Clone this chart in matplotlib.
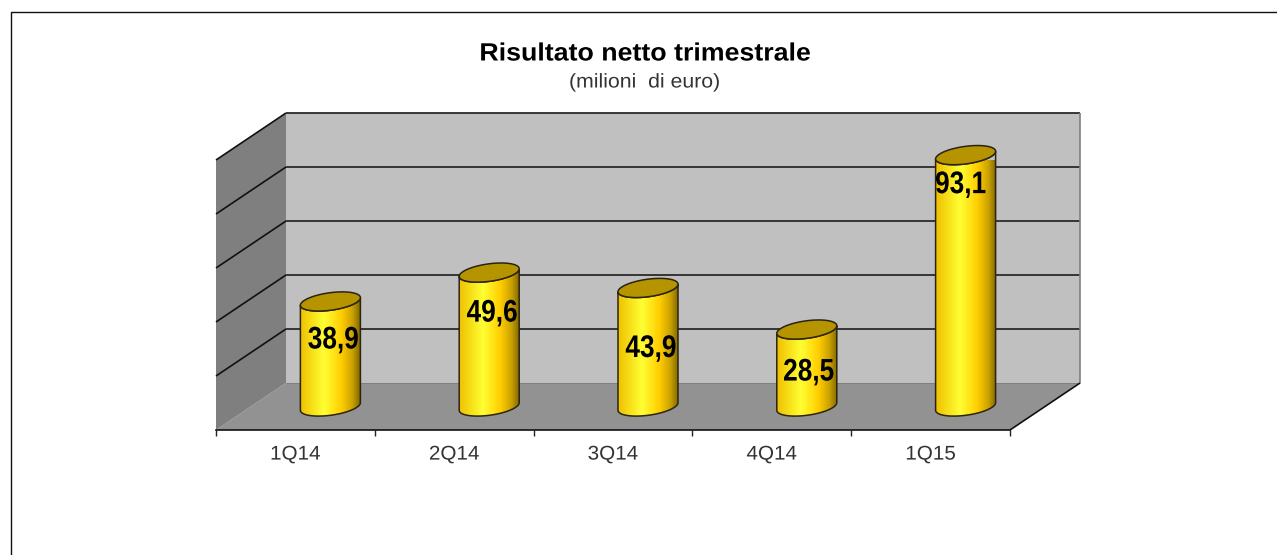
import numpy as np
import matplotlib
matplotlib.use("Agg")
import matplotlib.pyplot as plt
from matplotlib.colors import LinearSegmentedColormap
from matplotlib.lines import Line2D
from matplotlib.patches import Polygon, PathPatch
from matplotlib.path import Path
from matplotlib.patheffects import AbstractPathEffect
from matplotlib.transforms import Affine2D

# ---- data ----
categories = ["1Q14", "2Q14", "3Q14", "4Q14", "1Q15"]
values = [38.9, 49.6, 43.9, 28.5, 93.1]
value_labels = ["38,9", "49,6", "43,9", "28,5", "93,1"]
grid_values = [20, 40, 60, 80, 100]
title = "Risultato netto trimestrale"
subtitle = "(milioni  di euro)"


class StretchX(AbstractPathEffect):
    """Scale text horizontally about its own centre (the original font is narrower/wider)."""

    def __init__(self, sx):
        super().__init__()
        self.sx = sx

    def draw_path(self, renderer, gc, tpath, affine, rgbFace=None):
        box = tpath.get_extents(affine)
        c = 0.5 * (box.x0 + box.x1)
        a = affine + Affine2D().translate(-c, 0).scale(self.sx, 1).translate(c, 0)
        renderer.draw_path(gc, tpath, a, rgbFace)


# ---- layout (pixels) ----
W, H = 1277, 555
plt.rcParams["font.family"] = ["Liberation Sans", "DejaVu Sans"]
fig = plt.figure(figsize=(W / 100, H / 100), dpi=100, facecolor="white")
ax = fig.add_axes([216 / W, (H - 430) / H, 794 / W, 270 / H])
ax.set_facecolor("none")
ax.set_xlim(0, len(categories))
ax.set_ylim(0, 100)
ax.autoscale(False)

PX = 794 / len(categories)   # px per category
PY = 2.7                     # px per value unit
DX, DY = 70 / PX, 47 / PY    # chart depth in data units


def wall(points, depth_pts, **kw):
    pts = [(x + DX * d, y + DY * d) for (x, y), d in zip(points, depth_pts)]
    ax.add_patch(Polygon(pts, closed=True, clip_on=False, **kw))


# back wall, side wall, floor
wall([(0, 0), (5, 0), (5, 100), (0, 100)], [1, 1, 1, 1], fc="#C0C0C0", ec="none", zorder=1)
wall([(0, 0), (0, 0), (0, 100), (0, 100)], [0, 1, 1, 0], fc="#7F7F7F", ec="none", zorder=1)
wall([(0, 0), (5, 0), (5, 0), (0, 0)], [0, 0, 1, 1], fc="#929292", ec="none", zorder=1)

line_kw = dict(clip_on=False, solid_capstyle="butt")
for g in grid_values:
    ax.plot([0, DX], [g, g + DY], color="#111111", lw=1.2, zorder=2, **line_kw)
    ax.plot([DX, 5 + DX], [g + DY, g + DY], color="#2a2a2a", lw=1.3, zorder=2, **line_kw)
# outlines
ax.plot([5 + DX, 5 + DX], [DY, 100 + DY], color="#808080", lw=1.2, zorder=2, **line_kw)
ax.plot([DX, 5 + DX], [DY, DY], color="#808080", lw=0.7, zorder=2, **line_kw)
ax.plot([0, DX], [0, DY], color="#9a9a9a", lw=0.6, zorder=2, **line_kw)
ax.plot([5, 5 + DX], [0, DY], color="#111111", lw=1.2, zorder=2, **line_kw)

# cylinders
cmap = LinearSegmentedColormap.from_list(
    "gold",
    [(0.0, "#EFC000"), (0.40, "#FFFF33"), (0.70, "#FFCC00"),
     (0.88, "#C8A000"), (1.0, "#856B00")],
)
grad = np.linspace(0, 1, 256).reshape(1, -1)
HW = 30 / PX
t = np.linspace(0, 2 * np.pi, 121)


def ell(cx, cy, tt):
    return cx + HW * np.cos(tt), cy + (3.8 * np.cos(tt) - 8.8 * np.sin(tt)) / PY


label_shift_px = [37, 39, 59, 41, 28]
label_dx_px = [3, 3, 3, 2, -5]
edge = "#2b2410"
for i, v in enumerate(values):
    cx = i + 0.5 + DX / 2
    base = DY / 2
    top = base + v
    # left-to-right under the base, then back right-to-left at the top (hidden by the cap)
    bx, by = ell(cx, base, np.linspace(np.pi, 0, 60))
    ux, uy = ell(cx, top, np.linspace(0, np.pi, 60))
    verts = np.column_stack([np.r_[bx, ux], np.r_[by, uy]])
    closed = np.vstack([verts, verts[0]])
    ax.add_patch(PathPatch(Path(closed), fc="none", ec=edge, lw=1.1, zorder=5, clip_on=False))
    im = ax.imshow(grad, cmap=cmap, aspect="auto", zorder=4,
                   extent=(cx - HW, cx + HW, base - 12, top + 12), interpolation="bilinear")
    clip = PathPatch(Path(closed), transform=ax.transData, fc="none", ec="none")
    ax.add_patch(clip)
    im.set_clip_path(clip)
    # top cap
    ex, ey = ell(cx, top, t)
    ax.add_patch(Polygon(np.column_stack([ex, ey]), closed=True, fc="#B59400", ec=edge, lw=1.1,
                         zorder=6, clip_on=False))
    ann = ax.annotate(value_labels[i], (cx, top),
                      xytext=(label_dx_px[i] * 0.72, -(label_shift_px[i] + 2) * 0.72),
                      textcoords="offset points", ha="center", va="center",
                      fontsize=22.5, fontweight="bold", color="black", zorder=7,
                      annotation_clip=False)
    ann.set_path_effects([StretchX(0.84)])

ax.set_xlim(0, len(categories))
ax.set_ylim(0, 100)

# axes
for s in ("top", "left", "right"):
    ax.spines[s].set_visible(False)
ax.spines["bottom"].set_color("#111111")
ax.spines["bottom"].set_linewidth(1.2)
ax.spines["bottom"].set_zorder(3)
ax.set_yticks([])
ax.set_xticks(np.arange(len(categories) + 1))
ax.set_xticklabels([])
ax.set_xticks(np.arange(len(categories)) + 0.5, minor=True)
ax.set_xticklabels(categories, minor=True, fontsize=14.3, color="#333333")
ax.tick_params(axis="x", which="major", length=4.5, width=1, color="#222222")
ax.tick_params(axis="x", which="minor", length=0, pad=10.5)
for lab in ax.get_xticklabels(minor=True):
    lab.set_path_effects([StretchX(1.04)])

# titles
tt_ = fig.text(645 / W, 1 - 53.5 / H, title, ha="center", va="center", fontsize=18,
               fontweight="bold", color="black")
tt_.set_path_effects([StretchX(1.07)])
st_ = fig.text(645 / W, 1 - 82 / H, subtitle, ha="center", va="center", fontsize=14.3, color="#333333")
st_.set_path_effects([StretchX(1.07)])

# frame (only the left and top edges fall inside the picture)
fig.add_artist(Line2D([10.5 / W, 10.5 / W, 1], [0, 1 - 12 / H, 1 - 12 / H],
                      color="#111111", lw=1.0, transform=fig.transFigure))

fig.savefig("out.png", dpi=100, facecolor="white")
